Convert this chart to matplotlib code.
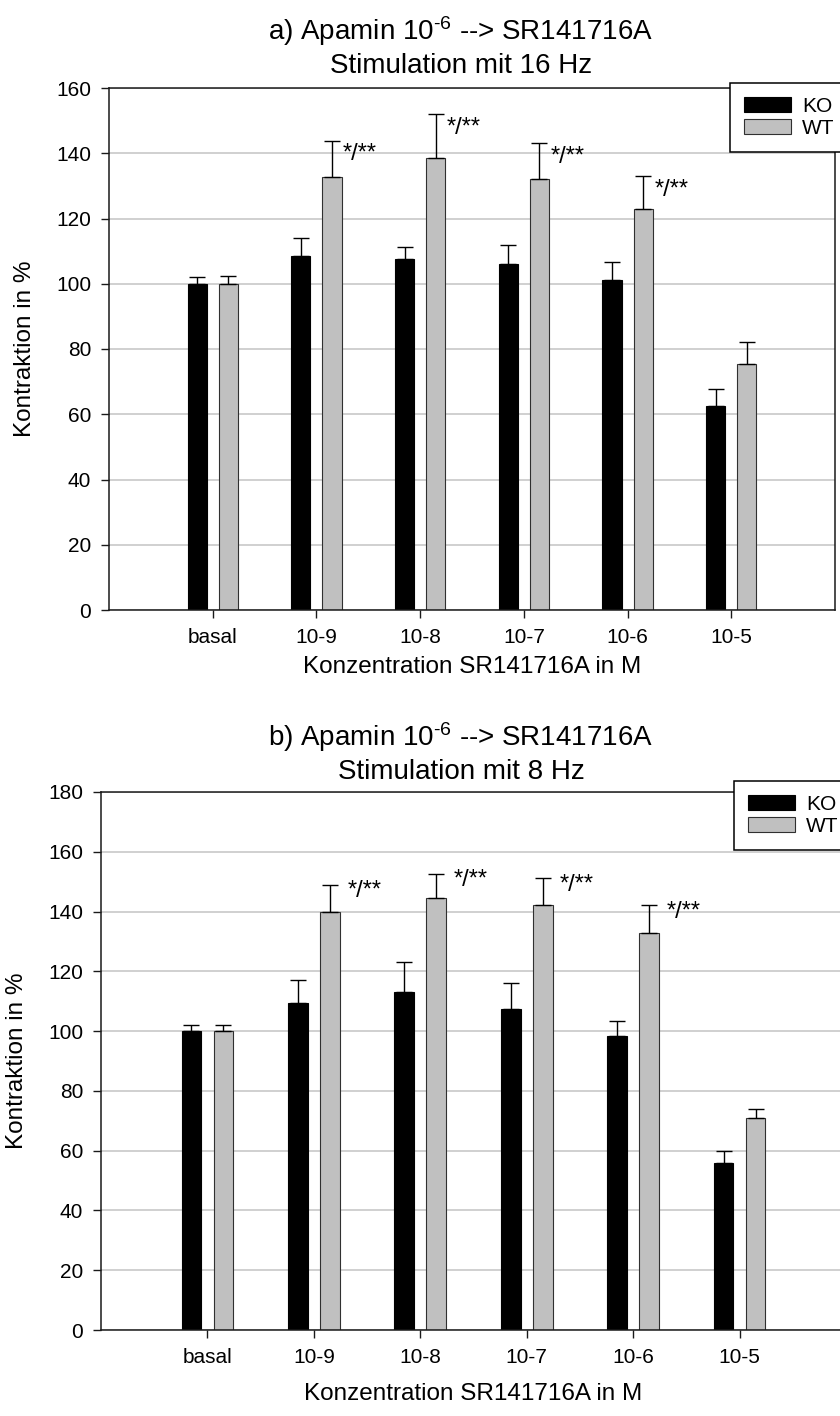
import matplotlib
matplotlib.use("Agg")
import matplotlib.pyplot as plt
from matplotlib.patches import Patch
import numpy as np

plt.rcParams['font.family'] = ['Liberation Sans', 'DejaVu Sans']
plt.rcParams['mathtext.fontset'] = 'custom'
plt.rcParams['mathtext.rm'] = 'Liberation Sans'
plt.rcParams['mathtext.it'] = 'Liberation Sans:italic'
plt.rcParams['mathtext.bf'] = 'Liberation Sans:bold'

# ---- data -------------------------------------------------------------
categories = ["basal", "10-9", "10-8", "10-7", "10-6", "10-5"]
groups = ["KO", "WT"]

# a) stimulation with 16 Hz
ko_16hz = [100.0, 108.5, 107.5, 106.0, 101.0, 62.5]
ko_16hz_err = [2.0, 5.6, 3.9, 5.9, 5.8, 5.2]
wt_16hz = [100.0, 132.8, 138.4, 132.0, 123.0, 75.5]
wt_16hz_err = [2.3, 11.1, 13.6, 11.2, 10.0, 6.5]
sig_16hz = ["", "*/**", "*/**", "*/**", "*/**", ""]

# b) stimulation with 8 Hz
ko_8hz = [100.0, 109.5, 113.0, 107.5, 98.5, 56.0]
ko_8hz_err = [2.0, 7.5, 10.0, 8.5, 4.8, 4.0]
wt_8hz = [100.0, 140.0, 144.6, 142.2, 132.8, 71.0]
wt_8hz_err = [2.0, 9.0, 8.1, 9.1, 9.4, 3.0]
sig_8hz = ["", "*/**", "*/**", "*/**", "*/**", ""]

title_a = ["a) Apamin 10$^{\\text{-6}}$ --> SR141716A", "Stimulation mit 16 Hz"]
title_b = ["b) Apamin 10$^{\\text{-6}}$ --> SR141716A", "Stimulation mit 8 Hz"]
xlabel = "Konzentration SR141716A in M"
ylabel = "Kontraktion in %"

# ---- style ------------------------------------------------------------
W, H = 840, 1416
DPI = 100
KO_COLOR = "#000000"
WT_COLOR = "#c0c0c0"
WT_EDGE = "#303030"
GRID = "#c8c8c8"
SPINE = "#1a1a1a"
BAR_W = 0.185
OFF = 0.15
TITLE_CX = 461

fig = plt.figure(figsize=(W / DPI, H / DPI), dpi=DPI)


def px_axes(l, t, r, b):
    return fig.add_axes([l / W, 1 - b / H, (r - l) / W, (b - t) / H])


def panel(ax, ko, ko_err, wt, wt_err, sig, ymax, title, title_y, leg_xy,
          sig_dx, sig_dy, ylab_x, xlab_y):
    x = np.arange(len(categories))
    ax.set_axisbelow(True)
    ax.yaxis.grid(True, color=GRID, linewidth=1.2)
    ax.bar(x - OFF, ko, BAR_W, color=KO_COLOR, edgecolor=KO_COLOR,
           linewidth=0.8, zorder=2)
    ax.bar(x + OFF, wt, BAR_W, color=WT_COLOR, edgecolor=WT_EDGE,
           linewidth=0.8, zorder=2)
    ax.errorbar(x - OFF, ko, yerr=[np.zeros(len(ko)), ko_err], fmt="none",
                ecolor="black", elinewidth=1.0, capsize=5.8, capthick=1.0,
                zorder=3)
    ax.errorbar(x + OFF, wt, yerr=[np.zeros(len(wt)), wt_err], fmt="none",
                ecolor="black", elinewidth=1.0, capsize=5.8, capthick=1.0,
                zorder=3)
    for xi, v, e, s in zip(x, wt, wt_err, sig):
        if s:
            ax.annotate(s, xy=(xi + OFF, v + e), xytext=(sig_dx, sig_dy),
                        textcoords="offset points", ha="left", va="top",
                        fontsize=17, zorder=4)

    ax.set_xlim(-1, 6)
    ax.set_ylim(0, ymax)
    ax.set_yticks(np.arange(0, ymax + 1, 20))
    ax.set_xticks(x)
    ax.set_xticklabels(categories)
    ax.tick_params(axis="both", direction="out", length=5.8, width=1.0,
                   color=SPINE, labelsize=15, pad=7)
    for sp in ax.spines.values():
        sp.set_color(SPINE)
        sp.set_linewidth(1.1)
    ax.set_ylabel(ylabel, fontsize=17.5)
    ax.yaxis.set_label_coords(ylab_x, 0.5)
    ax.set_xlabel(xlabel, fontsize=17.5)
    ax.xaxis.set_label_coords(0.5, xlab_y)

    # two-line heading above the panel
    fig.text(TITLE_CX / W, 1 - title_y[0] / H, title[0], ha="center",
             va="baseline", fontsize=20)
    fig.text(TITLE_CX / W, 1 - title_y[1] / H, title[1], ha="center",
             va="baseline", fontsize=20)

    handles = [Patch(facecolor=KO_COLOR, edgecolor=KO_COLOR, linewidth=0.8),
               Patch(facecolor=WT_COLOR, edgecolor=WT_EDGE, linewidth=0.8)]
    leg = ax.legend(handles, groups, loc="upper left",
                    bbox_to_anchor=(leg_xy[0] / W, 1 - leg_xy[1] / H),
                    bbox_transform=fig.transFigure, fontsize=15,
                    frameon=True, fancybox=False, framealpha=1,
                    edgecolor="black", borderpad=0.67, labelspacing=0.13,
                    handlelength=2.26, handleheight=0.72, handletextpad=0.53,
                    borderaxespad=0)
    leg.get_frame().set_linewidth(1.1)
    leg.set_zorder(10)


ax_a = px_axes(109, 88, 835, 610)
panel(ax_a, ko_16hz, ko_16hz_err, wt_16hz, wt_16hz_err, sig_16hz, 160,
      title_a, (40, 73), (730, 83), 8.0, -2.0, -0.101, -0.088)

ax_b = px_axes(101, 792, 846, 1330)
panel(ax_b, ko_8hz, ko_8hz_err, wt_8hz, wt_8hz_err, sig_8hz, 180,
      title_b, (746, 779), (734, 781), 12.5, 3.0, -0.098, -0.099)

fig.savefig("out.png", dpi=DPI)
